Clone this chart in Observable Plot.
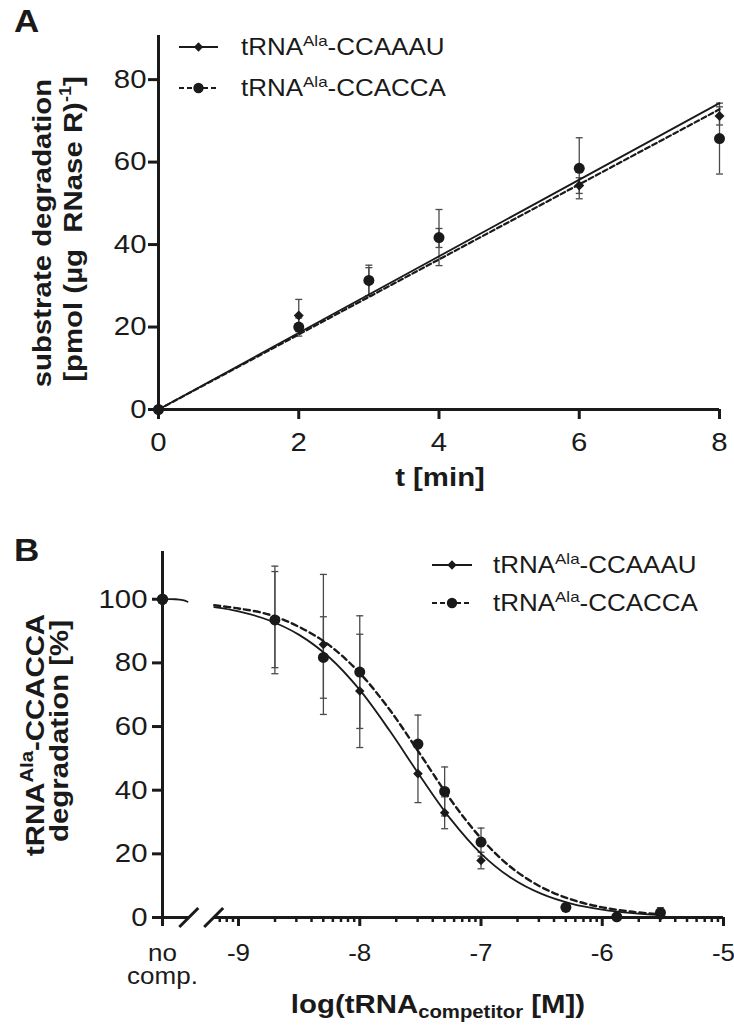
<!DOCTYPE html>
<html><head><meta charset="utf-8">
<script src="https://cdn.jsdelivr.net/npm/d3@7"></script>
<script src="https://cdn.jsdelivr.net/npm/@observablehq/plot@0.6"></script>
<style>
html,body{margin:0;padding:0;background:#fff;}
#wrap{position:relative;width:734px;height:1027px;overflow:hidden;background:#fff;}
#wrap > svg{position:absolute;left:0;}
#overlay{position:absolute;left:0;top:0;pointer-events:none;}
</style></head>
<body><div id="wrap"></div>
<script>
// ---------- Panel A data ----------
const timeMin   = [0, 2, 3, 4, 6, 8];
const aauMeanA  = [0, 22.8, 31.0, 41.6, 54.3, 71.2];
const aauSdA    = [0, 3.9, 3.4, 2.3, 1.9, 2.2];
const accMeanA  = [0, 20.0, 31.3, 41.7, 58.5, 65.7];
const accSdA    = [0, 2.2, 3.7, 6.8, 7.4, 8.6];
const fitTime   = [0, 8];
const fitAauA   = [0, 74.3];
const fitAccA   = [0, 72.8];
const xTicksA   = [0, 2, 4, 6, 8];
const yTicksA   = [0, 20, 40, 60, 80];

// ---------- Panel B data ----------
const logConc   = [-8.7, -8.3, -8.0, -7.52, -7.3, -7.0, -6.3, -5.88, -5.52];
const aauMeanB  = [93.6, 85.8, 71.2, 45.2, 32.9, 17.9, 2.8, 0.0, 0.5];
const aauSdB    = [15.1, 22.0, 17.8, 9.1, 5.0, 2.6, 0, 0, 0.8];
const accMeanB  = [93.5, 81.7, 77.1, 54.5, 39.6, 23.7, 3.2, 0.2, 1.5];
const accSdB    = [16.9, 12.8, 17.7, 9.1, 7.7, 4.4, 0, 0, 1.6];
const noCompVal = [100, 100];
const curveLogX = [-9.2, -9, -8.75, -8.5, -8.25, -8, -7.75, -7.5, -7.25, -7, -6.75, -6.5, -6.25, -6, -5.75, -5.52];
const curveAau  = [97.5, 96.2, 93.4, 88.8, 81.7, 71.5, 58.5, 44.3, 30.9, 20.1, 12.4, 7.4, 4.3, 2.5, 1.4, 0.8];
const curveAcc  = [98.1, 97.1, 95.2, 91.3, 85.5, 76.8, 65.1, 51.2, 37.0, 24.9, 15.7, 9.5, 5.6, 3.2, 1.8, 1.0];
const noCompCurveX = [-9.627, -9.52, -9.46, -9.42];
const noCompCurveY = [100, 100, 99.7, 99.2];
const noCompPos = -9.627;
const xTicksB   = [-9, -8, -7, -6, -5];
const yTicksB   = [0, 20, 40, 60, 80, 100];
const xBreaks   = [-9.41, -9.205];
const seriesNames = ["CCAAAU", "CCACCA"];

// ---------- style ----------
const FONT = '"Liberation Sans", Arial, Helvetica, sans-serif';
const INK = "#1a1a1a";
const ERR = "#4a4a4a";
const S = 1.13;

const capSym = { draw(ctx, size) { const w = Math.sqrt(size / Math.PI); ctx.moveTo(-w, 0); ctx.lineTo(w, 0); } };
const slashSym = { draw(ctx, size) { const w = Math.sqrt(size / Math.PI); ctx.moveTo(-w, w); ctx.lineTo(w, -w); } };

const rowsOf = (xs, ys, sds) => xs.map((x, i) => ({x, y: ys[i], lo: ys[i] - sds[i], hi: ys[i] + sds[i], sd: sds[i]}));
const lineRows = (xs, ys) => xs.map((x, i) => ({x, y: ys[i]}));

function widen(svg) {
  svg.querySelectorAll("text").forEach(t => {
    const tr = t.getAttribute("transform") || "";
    t.setAttribute("transform", tr + ` scale(${S},1)`);
  });
}

const wrap = document.getElementById("wrap");

// ---------- Panel A ----------
const aauA = rowsOf(timeMin, aauMeanA, aauSdA);
const accA = rowsOf(timeMin, accMeanA, accSdA);
const errA = [...aauA, ...accA].filter(d => d.sd > 0);
const capsA = errA.flatMap(d => [{x: d.x, y: d.lo}, {x: d.x, y: d.hi}]);

const plotA = Plot.plot({
  width: 734, height: 510,
  marginLeft: 158, marginRight: 15, marginTop: 35, marginBottom: 101,
  x: {domain: [xTicksA[0], xTicksA[xTicksA.length - 1]]},
  y: {domain: [0, 90.7]},
  style: {fontFamily: FONT, color: INK, background: "transparent", overflow: "visible"},
  marks: [
    Plot.ruleX(errA, {x: "x", y1: "lo", y2: "hi", stroke: ERR, strokeWidth: 1.3}),
    Plot.dot(capsA, {x: "x", y: "y", symbol: capSym, r: 3.5, stroke: ERR, strokeWidth: 1.3, fill: "none"}),
    Plot.line(lineRows(fitTime, fitAauA), {x: "x", y: "y", stroke: INK, strokeWidth: 1.8}),
    Plot.line(lineRows(fitTime, fitAccA), {x: "x", y: "y", stroke: INK, strokeWidth: 2.2, strokeDasharray: "5,3"}),
    Plot.ruleY([0], {stroke: INK, strokeWidth: 3}),
    Plot.ruleX([0], {stroke: INK, strokeWidth: 3}),
    Plot.axisX(xTicksA, {tickSize: 10, tickPadding: 13, strokeWidth: 3, fontSize: 26, label: null, tickFormat: d => String(d)}),
    Plot.axisY(yTicksA, {tickSize: 10, tickPadding: 2, strokeWidth: 3, fontSize: 26, label: null, tickFormat: d => String(d)}),
    Plot.dot(aauA, {x: "x", y: "y", symbol: "diamond2", r: 4.5, fill: INK}),
    Plot.dot(accA, {x: "x", y: "y", symbol: "circle", r: 5.5, fill: INK})
  ]
});
plotA.style.top = "0px";
widen(plotA);
wrap.appendChild(plotA);

// ---------- Panel B ----------
const aauB = rowsOf(logConc, aauMeanB, aauSdB);
const accB = rowsOf(logConc, accMeanB, accSdB);
const errB = [...aauB, ...accB].filter(d => d.sd > 0);
const capsB = errB.flatMap(d => [{x: d.x, y: d.lo}, {x: d.x, y: d.hi}]);
const noCompRows = noCompVal.map((v, i) => ({x: noCompPos, y: v, s: seriesNames[i]}));
const axisSegs = [{x1: noCompPos, x2: xBreaks[0], y: 0}, {x1: xBreaks[1], x2: xTicksB[xTicksB.length - 1], y: 0}];
const minorTicksB = [];
for (let e = -10; e <= -6; e++) for (let k = 2; k <= 9; k++) {
  const v = e + Math.log10(k);
  if (v > xBreaks[1] && v < xTicksB[xTicksB.length - 1]) minorTicksB.push(v);
}

const plotB = Plot.plot({
  width: 734, height: 517,
  marginLeft: 162, marginRight: 11, marginTop: 41, marginBottom: 110,
  x: {domain: [noCompPos, xTicksB[xTicksB.length - 1]]},
  y: {domain: [0, 115]},
  style: {fontFamily: FONT, color: INK, background: "transparent", overflow: "visible"},
  marks: [
    Plot.ruleX(errB, {x: "x", y1: "lo", y2: "hi", stroke: ERR, strokeWidth: 1.3}),
    Plot.dot(capsB, {x: "x", y: "y", symbol: capSym, r: 3.5, stroke: ERR, strokeWidth: 1.3, fill: "none"}),
    Plot.line(lineRows(curveLogX, curveAau), {x: "x", y: "y", stroke: INK, strokeWidth: 1.8, curve: "catmull-rom"}),
    Plot.line(lineRows(curveLogX, curveAcc), {x: "x", y: "y", stroke: INK, strokeWidth: 2.4, strokeDasharray: "6,4", curve: "catmull-rom"}),
    Plot.line(lineRows(noCompCurveX, noCompCurveY), {x: "x", y: "y", stroke: INK, strokeWidth: 1.8, curve: "catmull-rom"}),
    Plot.ruleY(axisSegs, {y: "y", x1: "x1", x2: "x2", stroke: INK, strokeWidth: 3}),
    Plot.ruleX([noCompPos], {stroke: INK, strokeWidth: 3}),
    Plot.dot(xBreaks, {x: d => d, y: () => 0, symbol: slashSym, r: 9.5, stroke: INK, strokeWidth: 3, fill: "none"}),
    Plot.axisX(minorTicksB, {tickSize: 5, strokeWidth: 2.5, label: null, tickFormat: () => ""}),
    Plot.axisX([noCompPos, ...xTicksB], {tickSize: 9, tickPadding: 18, strokeWidth: 3, fontSize: 23, label: null, lineHeight: 1,
      tickFormat: d => d === noCompPos ? "no\ncomp." : String(d)}),
    Plot.axisY(yTicksB, {tickSize: 10, tickPadding: 5, strokeWidth: 3, fontSize: 26, label: null, tickFormat: d => String(d)}),
    Plot.dot(aauB, {x: "x", y: "y", symbol: "diamond2", r: 4.3, fill: INK}),
    Plot.dot(accB, {x: "x", y: "y", symbol: "circle", r: 5.5, fill: INK}),
    Plot.dot(noCompRows, {x: "x", y: "y", symbol: "circle", r: 5.5, fill: INK})
  ]
});
plotB.style.top = "510px";
widen(plotB);
wrap.appendChild(plotB);

// ---------- Overlay text: panel letters, axis titles, legends ----------
const ov = d3.select(wrap).append("svg").attr("id", "overlay")
  .attr("width", 734).attr("height", 1027)
  .style("font-family", FONT).style("white-space", "pre");

function richText({x, y, parts, size, weight = "normal", anchor = "start", rotate = 0}) {
  const t = ov.append("text")
    .attr("transform", `translate(${x},${y})${rotate ? ` rotate(${rotate})` : ""} scale(${S},1)`)
    .attr("text-anchor", anchor).attr("font-size", size).attr("font-weight", weight)
    .attr("fill", INK).attr("xml:space", "preserve");
  let shift = 0;
  for (const [txt, kind, ks] of parts) {
    const target = kind === "sup" ? -(ks?.shift ?? size * 0.4) : kind === "sub" ? (ks?.shift ?? size * 0.25) : 0;
    const fs = kind === "n" ? size : (ks?.size ?? size * 0.65);
    t.append("tspan").attr("dy", target - shift).attr("font-size", fs).text(txt);
    shift = target;
  }
  return t;
}

// panel letters
richText({x: 14, y: 32, parts: [["A", "n"]], size: 31, weight: "bold"});
richText({x: 14, y: 561, parts: [["B", "n"]], size: 31, weight: "bold"});

// Panel A axis titles
richText({x: 440, y: 486, parts: [["t [min]", "n"]], size: 26, weight: "bold", anchor: "middle"});
richText({x: 51, y: 233, parts: [["substrate degradation", "n"]], size: 26, weight: "bold", anchor: "middle", rotate: -90});
richText({x: 82, y: 229, parts: [["[pmol (µg  RNase R)", "n"], ["-1", "sup", {size: 16, shift: 11}], ["]", "n"]], size: 26, weight: "bold", anchor: "middle", rotate: -90});

// Panel B axis titles
richText({x: 438, y: 1013, parts: [["log(tRNA", "n"], ["competitor", "sub", {size: 18, shift: 5}], [" [M])", "n"]], size: 26, weight: "bold", anchor: "middle"});
richText({x: 44, y: 735, parts: [["tRNA", "n"], ["Ala", "sup", {size: 18, shift: 11}], ["-CCACCA", "n"]], size: 26, weight: "bold", anchor: "middle", rotate: -90});
richText({x: 68, y: 731, parts: [["degradation [%]", "n"]], size: 26, weight: "bold", anchor: "middle", rotate: -90});

// legends
function legendRow(x0, x1, xt, cy, dashed, symbol, name) {
  ov.append("line").attr("x1", x0).attr("x2", x1).attr("y1", cy).attr("y2", cy)
    .attr("stroke", INK).attr("stroke-width", dashed ? 2.2 : 1.8)
    .attr("stroke-dasharray", dashed ? "5,3" : null);
  const sym = symbol === "diamond"
    ? d3.symbol(d3.symbolDiamond2, 55)
    : d3.symbol(d3.symbolCircle, Math.PI * 5.2 * 5.2);
  ov.append("path").attr("d", sym()).attr("transform", `translate(${(x0 + x1) / 2},${cy})`).attr("fill", INK);
  richText({x: xt, y: cy + 8, parts: [["tRNA", "n"], ["Ala", "sup", {size: 15, shift: 9}], ["-" + name, "n"]], size: 23});
}
legendRow(179, 218, 241, 47, false, "diamond", seriesNames[0]);
legendRow(179, 218, 241, 88, true, "circle", seriesNames[1]);
legendRow(432, 472, 493, 565, false, "diamond", seriesNames[0]);
legendRow(432, 472, 493, 603, true, "circle", seriesNames[1]);
</script>
</body></html>
